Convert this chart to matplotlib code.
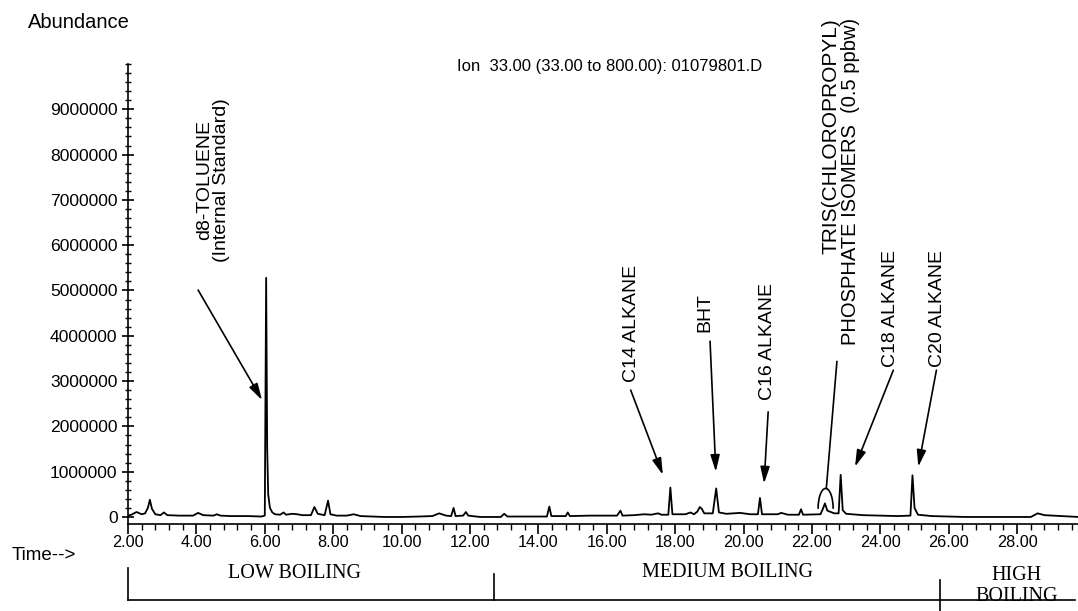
import matplotlib
matplotlib.use('Agg')
import matplotlib.pyplot as plt
from matplotlib.patches import Arc
from matplotlib.ticker import MultipleLocator

# trace: retention time (min) and abundance (millions)
time = [2.00, 2.10, 2.25, 2.40, 2.50, 2.58, 2.64, 2.70, 2.80, 2.95, 3.05, 3.15,
        3.50, 3.90, 4.05, 4.20, 4.50, 4.60, 4.70, 5.00, 5.50, 5.90, 6.00, 6.04,
        6.07, 6.10, 6.15, 6.22, 6.30, 6.45, 6.55, 6.62, 6.80, 6.95, 7.10, 7.35,
        7.45, 7.55, 7.75, 7.85, 7.92, 8.10, 8.40, 8.60, 8.80, 9.50, 10.00, 10.50,
        10.90, 11.10, 11.30, 11.45, 11.52, 11.58, 11.80, 11.88, 11.95, 12.30, 12.90, 13.00,
        13.10, 13.50, 14.25, 14.32, 14.38, 14.80, 14.86, 14.92, 15.50, 16.30, 16.40, 16.46,
        16.80, 17.10, 17.30, 17.50, 17.60, 17.80, 17.86, 17.92, 18.30, 18.45, 18.55, 18.65,
        18.72, 18.78, 18.85, 19.10, 19.20, 19.28, 19.50, 19.90, 20.20, 20.42, 20.48, 20.54,
        21.00, 21.10, 21.30, 21.62, 21.68, 21.74, 22.25, 22.32, 22.38, 22.45, 22.55, 22.65,
        22.78, 22.84, 22.90, 23.00, 23.50, 24.50, 24.88, 24.94, 25.00, 25.10, 25.50, 26.50,
        28.40, 28.60, 28.80, 29.80]
abundance = [0.03, 0.05, 0.11, 0.06, 0.08, 0.20, 0.38, 0.18, 0.06, 0.04, 0.10, 0.04,
             0.03, 0.03, 0.09, 0.04, 0.03, 0.06, 0.03, 0.02, 0.02, 0.01, 0.03, 5.28,
             1.50, 0.50, 0.20, 0.10, 0.06, 0.05, 0.10, 0.05, 0.07, 0.06, 0.04, 0.04,
             0.22, 0.07, 0.04, 0.36, 0.06, 0.03, 0.03, 0.06, 0.02, 0.00, 0.00, 0.01,
             0.02, 0.08, 0.03, 0.02, 0.20, 0.02, 0.03, 0.11, 0.03, 0.00, 0.00, 0.07,
             0.01, 0.01, 0.01, 0.23, 0.02, 0.02, 0.10, 0.02, 0.03, 0.03, 0.14, 0.03,
             0.04, 0.06, 0.05, 0.08, 0.05, 0.05, 0.65, 0.06, 0.06, 0.10, 0.06, 0.12,
             0.22, 0.18, 0.08, 0.08, 0.63, 0.10, 0.07, 0.09, 0.06, 0.06, 0.42, 0.06,
             0.06, 0.09, 0.05, 0.05, 0.17, 0.05, 0.06, 0.18, 0.30, 0.14, 0.11, 0.08,
             0.08, 0.93, 0.15, 0.07, 0.04, 0.02, 0.03, 0.92, 0.20, 0.05, 0.02, 0.00,
             0.00, 0.08, 0.04, 0.00]

x_ticks = [2, 4, 6, 8, 10, 12, 14, 16, 18, 20, 22, 24, 26, 28]
y_ticks = [0, 1000000, 2000000, 3000000, 4000000, 5000000, 6000000, 7000000, 8000000, 9000000]

# boiling ranges (start time of each bracket) and their labels
range_edges = [2.0, 12.7, 25.75]
range_labels = ['LOW BOILING', 'MEDIUM BOILING', 'HIGH\nBOILING']

plt.rcParams['font.family'] = ['Liberation Sans', 'DejaVu Sans']

fig = plt.figure(figsize=(10.78, 6.11), dpi=100)
ax = fig.add_axes([128 / 1078, 87 / 611, 950 / 1078, 460 / 611])

ax.plot(time, [a * 1e6 for a in abundance], color='black', lw=1.3)

ax.set_xlim(2.0, 29.78)
ax.set_ylim(-155000, 10000000)
ax.spines['top'].set_visible(False)
ax.spines['right'].set_visible(False)
ax.spines['left'].set_linewidth(1.2)
ax.spines['bottom'].set_linewidth(1.2)

ax.set_xticks(x_ticks)
ax.set_xticklabels(['%.2f' % t for t in x_ticks])
ax.xaxis.set_minor_locator(MultipleLocator(0.4))
ax.set_yticks(y_ticks)
ax.set_yticklabels([str(v) for v in y_ticks])
ax.yaxis.set_minor_locator(MultipleLocator(200000))
ax.tick_params(axis='x', which='major', direction='out', length=7, width=1.2, labelsize=11.7, pad=1)
ax.tick_params(axis='x', which='minor', direction='out', length=4, width=1.0)
ax.tick_params(axis='y', which='major', direction='inout', length=9, width=1.2, labelsize=12.6, pad=3)
ax.tick_params(axis='y', which='minor', direction='inout', length=5, width=1.0)

fig.text(28 / 1078, 1 - 22 / 611, 'Abundance', fontsize=14.5, va='center', ha='left')
fig.text(12 / 1078, 1 - 556 / 611, 'Time-->', fontsize=13.5, va='center', ha='left')
fig.text(457 / 1078, 1 - 66 / 611, 'Ion  33.00 (33.00 to 800.00): 01079801.D',
         fontsize=12, va='center', ha='left')

# peak labels with arrows
arrow = dict(arrowstyle='-|>,head_length=1.0,head_width=0.28', color='black', lw=1.2,
             shrinkA=0, shrinkB=0)
lab = dict(rotation=90, fontsize=14, ha='center', va='bottom')

ax.text(4.50, 5.63e6, 'd8-TOLUENE\n(Internal Standard)', linespacing=1.0, **lab)
ax.annotate('', xy=(5.92, 2.58e6), xytext=(4.05, 5.01e6), arrowprops=arrow)

ax.text(16.71, 2.98e6, 'C14 ALKANE', **lab)
ax.annotate('', xy=(17.64, 0.93e6), xytext=(16.70, 2.80e6), arrowprops=arrow)

ax.text(18.87, 4.08e6, 'BHT', **lab)
ax.annotate('', xy=(19.19, 1.00e6), xytext=(19.02, 3.88e6), arrowprops=arrow)

ax.text(20.71, 2.58e6, 'C16 ALKANE', **lab)
ax.annotate('', xy=(20.60, 0.74e6), xytext=(20.72, 2.32e6), arrowprops=arrow)

ax.text(22.56, 11.0e6, 'TRIS(CHLOROPROPYL)', rotation=90, fontsize=15, ha='center', va='top')
ax.text(23.14, 3.80e6, 'PHOSPHATE ISOMERS  (0.5 ppbw)', rotation=90, fontsize=14.5,
        ha='center', va='bottom')
ax.plot([22.73, 22.42], [3.43e6, 0.63e6], color='black', lw=1.2)
ax.add_patch(Arc((22.40, 0.18e6), width=0.44, height=0.9e6, theta1=-10, theta2=190,
                 color='black', lw=1.2))

ax.text(24.31, 3.31e6, 'C18 ALKANE', **lab)
ax.annotate('', xy=(23.26, 1.11e6), xytext=(24.38, 3.24e6), arrowprops=arrow)

ax.text(25.68, 3.31e6, 'C20 ALKANE', **lab)
ax.annotate('', xy=(25.11, 1.11e6), xytext=(25.64, 3.24e6), arrowprops=arrow)

# boiling range brackets under the time axis
tr = ax.get_xaxis_transform()
ax.plot([range_edges[0], 29.7], [-0.165, -0.165], transform=tr, color='black', lw=1.2, clip_on=False)
ax.plot([range_edges[0]] * 2, [-0.096, -0.165], transform=tr, color='black', lw=1.2, clip_on=False)
ax.plot([range_edges[1]] * 2, [-0.109, -0.165], transform=tr, color='black', lw=1.2, clip_on=False)
ax.plot([range_edges[2]] * 2, [-0.122, -0.189], transform=tr, color='black', lw=1.2, clip_on=False)

serif = dict(family=['Liberation Serif', 'DejaVu Serif'], fontsize=14.5, ha='center',
             transform=tr, clip_on=False)
ax.text(6.88, -0.107, range_labels[0], va='center', **serif)
ax.text(19.54, -0.105, range_labels[1], va='center', **serif)
ax.text(27.98, -0.092, range_labels[2], va='top', linespacing=1.1, **serif)

fig.savefig('out.png', dpi=100)
